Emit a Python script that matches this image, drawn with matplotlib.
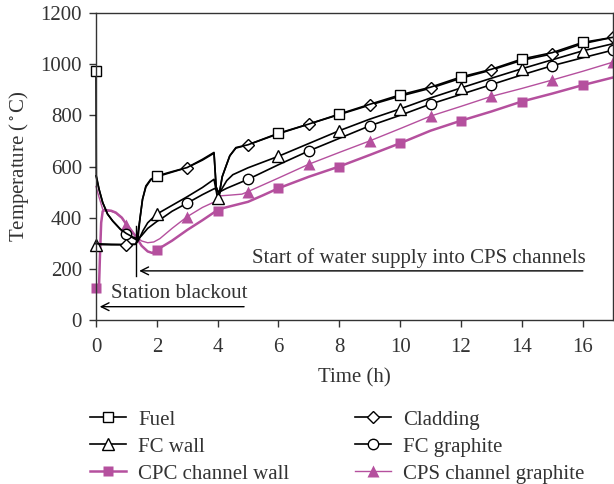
import numpy as np
import matplotlib
matplotlib.use("Agg")
import matplotlib.pyplot as plt

plt.rcParams['font.family'] = ['Liberation Serif', 'DejaVu Serif']
plt.rcParams['mathtext.fontset'] = 'stix'

MAGENTA = '#B5509E'
FS = 15

# --- data (time in h, temperature in deg C) ---
fuel_t = [0, 0.01, 0.1, 0.22, 0.38, 0.55, 0.8, 1.0, 1.2, 1.35, 1.45, 1.53, 1.64, 1.8, 2, 2.5, 3, 3.5,
          3.88, 3.95, 4.05, 4.15, 4.28, 4.4, 4.6, 5, 6, 7, 8, 9, 10, 11, 12, 13, 14, 15, 16, 17]
fuel_T = [975, 565, 511, 459, 414, 387, 355, 338, 325, 318, 400, 472, 524, 550, 563, 580, 596, 628,
          655, 520, 490, 560, 603, 642, 674, 685, 730, 766, 805, 843, 880, 910, 950, 980, 1020, 1045, 1085, 1105]
fuel_marks = [0, 2, 6, 8, 10, 12, 14, 16]

clad_t = [0, 0.5, 1, 1.3, 1.38, 1.45, 1.53, 1.64, 1.8, 2, 2.5, 3, 3.5, 3.88, 3.95, 4.05, 4.15, 4.28,
          4.4, 4.6, 5, 6, 7, 8, 9, 10, 11, 12, 13, 14, 15, 16, 17]
clad_T = [298, 296, 295, 296, 318, 400, 472, 520, 548, 560, 578, 596, 625, 652, 520, 490, 560, 603,
          642, 672, 685, 728, 766, 803, 840, 875, 906, 945, 977, 1015, 1040, 1080, 1105]
clad_marks = [1, 3, 5, 7, 9, 11, 13, 15, 17]

fcw_t = [0, 0.5, 1, 1.3, 1.4, 1.55, 1.7, 2, 2.5, 3, 3.5, 3.88, 4, 4.1, 4.3, 4.5, 5, 6, 7, 8, 9, 10,
         11, 12, 13, 14, 15, 16, 17]
fcw_T = [295, 294, 294, 296, 312, 350, 380, 414, 448, 482, 518, 550, 475, 505, 545, 568, 595, 640,
         690, 740, 785, 825, 868, 907, 945, 982, 1017, 1052, 1080]
fcw_marks = [0, 2, 4, 6, 8, 10, 12, 14, 16]

fcg_t = [0, 0.1, 0.22, 0.38, 0.55, 0.8, 1, 1.2, 1.35, 1.5, 1.7, 2, 2.2, 2.5, 3, 3.5, 3.9, 4.05, 4.3,
         4.6, 5, 6, 7, 8, 9, 10, 11, 12, 13, 14, 15, 16, 17]
fcg_T = [563, 511, 459, 414, 387, 355, 336, 322, 312, 330, 358, 385, 400, 425, 457, 490, 514, 500, 515,
         530, 550, 607, 661, 710, 759, 800, 844, 882, 920, 958, 994, 1025, 1055]
fcg_marks = [1, 3, 5, 7, 9, 11, 13, 15, 17]

cpc_t = [0, 0.1, 0.13, 0.17, 0.22, 0.3, 0.5, 0.65, 0.85, 1, 1.15, 1.3, 1.5, 1.7, 1.85, 2, 2.5, 3, 3.5,
         3.9, 4, 4.2, 4.6, 5, 5.5, 6, 7, 8, 9, 10, 11, 12, 13, 14, 15, 16, 17]
cpc_T = [127, 132, 250, 380, 425, 430, 427, 420, 400, 374, 352, 328, 290, 268, 262, 274, 310, 352, 390,
         422, 427, 438, 450, 462, 488, 515, 560, 600, 645, 691, 740, 779, 815, 854, 885, 918, 948]
cpc_marks = [0, 2, 4, 6, 8, 10, 12, 14, 16]

cps_t = [0, 0.1, 0.22, 0.3, 0.5, 0.65, 0.85, 1, 1.15, 1.3, 1.5, 1.7, 1.9, 2.1, 2.5, 3, 3.5, 3.9, 4.05,
         4.4, 4.8, 5, 6, 7, 8, 9, 10, 11, 12, 13, 14, 15, 16, 17]
cps_T = [522, 480, 433, 428, 425, 418, 398, 372, 350, 328, 309, 302, 305, 318, 358, 404, 440, 462, 485,
         488, 492, 502, 555, 609, 655, 700, 748, 797, 835, 874, 905, 938, 972, 1008]
cps_marks = [1, 3, 5, 7, 9, 11, 13, 15, 17]

x_ticks = [0, 2, 4, 6, 8, 10, 12, 14, 16]
y_ticks = [0, 200, 400, 600, 800, 1000, 1200]

fig = plt.figure(figsize=(6.14, 4.84), dpi=100)
ax = fig.add_axes([96 / 614, 1 - 320 / 484, 517 / 614, 307 / 484])


def draw(t, T, marks, marker, color, lw, filled, label, ms=7):
    idx = [i for i, v in enumerate(t) if v in marks]
    face = color if filled else 'white'
    edge = 'none' if filled else color
    ln, = ax.plot(t, T, color=color, lw=lw, marker=marker, markevery=idx, ms=ms,
                  mfc=face, mec=edge, mew=1.0, label=label, clip_on=False)
    return ln


h_cpc = draw(cpc_t, cpc_T, cpc_marks, 's', MAGENTA, 1.8, True, 'CPC channel wall', 7.5)
h_cps = draw(cps_t, cps_T, cps_marks, '^', MAGENTA, 1.0, True, 'CPS channel graphite', 8)
h_fcg = draw(fcg_t, fcg_T, fcg_marks, 'o', 'black', 1.2, False, 'FC graphite', 7.5)
h_fcw = draw(fcw_t, fcw_T, fcw_marks, '^', 'black', 1.2, False, 'FC wall', 8)
h_clad = draw(clad_t, clad_T, clad_marks, 'D', 'black', 1.2, False, 'Cladding', 6)
h_fuel = draw(fuel_t, fuel_T, fuel_marks, 's', 'black', 1.2, False, 'Fuel', 7.5)

ax.set_xlim(0, 17)
ax.set_ylim(0, 1200)
ax.set_xticks(x_ticks)
ax.set_yticks(y_ticks)
ax.tick_params(direction='out', length=5, width=1, labelsize=FS, color='#333333', labelcolor='#333333')
ax.tick_params(axis='x', pad=8)
ax.tick_params(axis='y', pad=5)
for s in ax.spines.values():
    s.set_linewidth(1.0)
    s.set_color('#333333')
ax.set_xlabel('Time (h)', fontsize=FS, color='#333333', labelpad=8)
ax.set_ylabel('Temperature ($^\\circ$C)', fontsize=FS, color='#333333', va='center')
ax.yaxis.set_label_coords(-(96 - 19) / 517, 0.5)

# annotations
ax.text(16.1, 224, 'Start of water supply into CPS channels', ha='right', va='baseline',
        fontsize=FS, color='#333333')
ax.annotate('', xy=(1.33, 192), xytext=(16.1, 192),
            arrowprops=dict(arrowstyle='->', lw=1.0, color='black', mutation_scale=14))
ax.plot([1.3, 1.3], [172, 368], color='black', lw=1.0)
ax.text(0.5, 85, 'Station blackout', ha='left', va='baseline', fontsize=FS, color='#333333')
ax.annotate('', xy=(0.03, 52), xytext=(4.96, 52),
            arrowprops=dict(arrowstyle='->', lw=1.0, color='black', mutation_scale=14))

leg_kw = dict(loc='upper left', frameon=False, fontsize=FS, handlelength=1.75,
              borderpad=0, borderaxespad=0, labelspacing=0.36, handletextpad=0.55,
              labelcolor='#333333')
fig.legend(handles=[h_fuel, h_fcw, h_cpc], bbox_to_anchor=(90 / 614, 1 - 410 / 484), **leg_kw)
fig.legend(handles=[h_clad, h_fcg, h_cps], bbox_to_anchor=(355 / 614, 1 - 410 / 484), **leg_kw)

fig.savefig('out.png', dpi=100)
